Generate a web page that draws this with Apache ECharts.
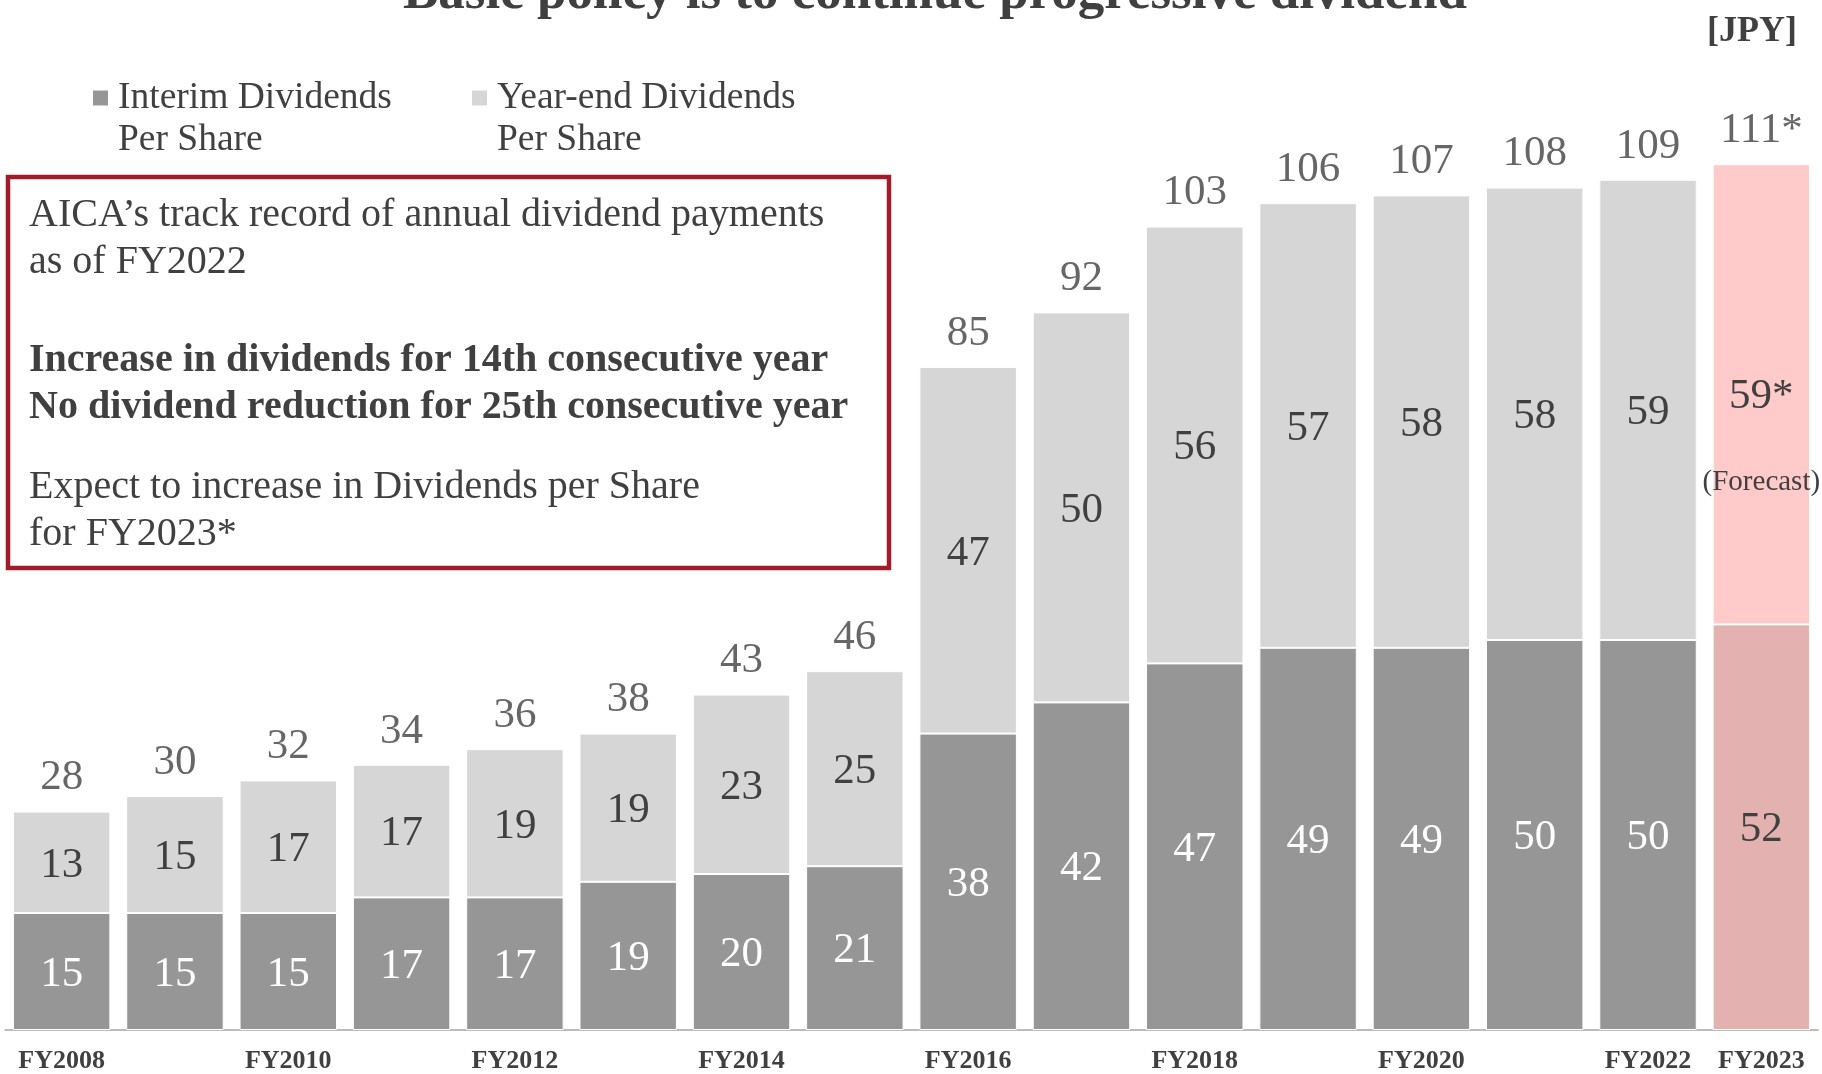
<!DOCTYPE html>
<html>
<head>
<meta charset="utf-8">
<title>Dividends per share</title>
<script src="https://cdn.jsdelivr.net/npm/echarts@6/dist/echarts.min.js"></script>
<style>
  html, body { margin: 0; padding: 0; background: #fff; }
  #chart { width: 1822px; height: 1074px; }
</style>
</head>
<body>
<div id="chart"></div>
<script>
const categories = ['FY2008', 'FY2009', 'FY2010', 'FY2011', 'FY2012', 'FY2013', 'FY2014', 'FY2015',
  'FY2016', 'FY2017', 'FY2018', 'FY2019', 'FY2020', 'FY2021', 'FY2022', 'FY2023']
const interim = [15, 15, 15, 17, 17, 19, 20, 21, 38, 42, 47, 49, 49, 50, 50, 52]
const yearEnd = [13, 15, 17, 17, 19, 19, 23, 25, 47, 50, 56, 57, 58, 58, 59, 59]
const totals = [28, 30, 32, 34, 36, 38, 43, 46, 85, 92, 103, 106, 107, 108, 109, 111]
const forecastIndex = 15

const interimName = 'Interim Dividends\nPer Share'
const yearEndName = 'Year-end Dividends\nPer Share'

const serif = "'Liberation Serif', 'Times New Roman', serif"
const textColor = '#404040'

const chart = echarts.init(document.getElementById('chart'))

const isForecast = p => p.dataIndex === forecastIndex

const legendBase = {
  top: 35,
  padding: 0,
  icon: 'rect',
  itemWidth: 17,
  itemHeight: 17,
  formatter: name => '\n' + name,
  textStyle: { fontFamily: serif, fontSize: 37.5, lineHeight: 42, color: textColor, padding: [0, 0, 0, 4] }
}

chart.setOption({
  animation: false,
  title: {
    text: 'Basic policy is to continue progressive dividend',
    left: 398,
    top: -37,
    textStyle: { fontFamily: serif, fontSize: 53, fontWeight: 'bold', color: textColor }
  },
  legend: [
    Object.assign({}, legendBase, {
      data: [{ name: interimName, itemStyle: { color: '#969696' } }],
      left: 91
    }),
    Object.assign({}, legendBase, {
      data: [{ name: yearEndName, itemStyle: { color: '#d6d6d6' } }],
      left: 470
    })
  ],
  grid: { left: 5, right: 4, top: 55, bottom: 43 },
  xAxis: {
    type: 'category',
    data: categories,
    axisLine: { lineStyle: { color: '#a6a6a6', width: 1.5 } },
    axisTick: { interval: 0, length: 7, lineStyle: { color: '#a6a6a6' } },
    axisLabel: {
      interval: (i) => i % 2 === 0 || i === forecastIndex,
      margin: 18,
      fontFamily: serif,
      fontSize: 26,
      fontWeight: 'bold',
      color: textColor
    }
  },
  yAxis: {
    type: 'value',
    min: 0,
    max: 125,
    show: false
  },
  graphic: [
    {
      type: 'text',
      right: 25,
      top: 14,
      style: { text: '[JPY]', fontFamily: serif, fontSize: 36, fontWeight: 'bold', fill: textColor }
    },
    {
      type: 'rect',
      shape: { x: 8, y: 177, width: 881, height: 391 },
      style: { fill: '#fff', stroke: '#a01c2a', lineWidth: 4.5 },
      z: 10
    },
    {
      type: 'text',
      left: 29,
      top: 192,
      z: 11,
      style: {
        text: 'AICA’s track record of annual dividend payments\nas of FY2022',
        fontFamily: serif, fontSize: 40, lineHeight: 47, fill: textColor
      }
    },
    {
      type: 'text',
      left: 29,
      top: 337,
      z: 11,
      style: {
        text: 'Increase in dividends for 14th consecutive year\nNo dividend reduction for 25th consecutive year',
        fontFamily: serif, fontSize: 40, fontWeight: 'bold', lineHeight: 47, fill: textColor
      }
    },
    {
      type: 'text',
      left: 29,
      top: 464,
      z: 11,
      style: {
        text: 'Expect to increase in Dividends per Share\nfor FY2023*',
        fontFamily: serif, fontSize: 40, lineHeight: 47, fill: textColor
      }
    }
  ],
  series: [
    {
      name: interimName,
      type: 'bar',
      stack: 'dps',
      barCategoryGap: '14%',
      data: interim,
      itemStyle: {
        color: p => (isForecast(p) ? '#e4b1b1' : '#969696'),
        borderColor: '#fff',
        borderWidth: 1
      },
      label: {
        show: true,
        position: 'inside',
        offset: [0, 3],
        fontFamily: serif,
        fontSize: 43,
        color: '#fff',
        formatter: p => (isForecast(p) ? '{d|' + p.value + '}' : p.value),
        rich: { d: { fontFamily: serif, fontSize: 43, color: textColor } }
      }
    },
    {
      name: yearEndName,
      type: 'bar',
      stack: 'dps',
      data: yearEnd,
      itemStyle: {
        color: p => (isForecast(p) ? '#ffcaca' : '#d6d6d6'),
        borderColor: '#fff',
        borderWidth: 1
      },
      label: {
        show: true,
        position: 'inside',
        fontFamily: serif,
        fontSize: 43,
        color: textColor,
        formatter: p => (isForecast(p)
          ? '{v|' + p.value + '*}\n{f|(Forecast)}'
          : p.value),
        rich: {
          v: { fontFamily: serif, fontSize: 43, lineHeight: 45, color: textColor },
          f: { fontFamily: serif, fontSize: 29, lineHeight: 127, color: textColor }
        }
      },
      // forecast label sits lower so "59*" stays centred with "(Forecast)" under it
      labelLayout: p => ({ dy: p.dataIndex === forecastIndex ? 66 : 3 })
    },
    {
      name: 'total',
      type: 'scatter',
      data: totals,
      symbolSize: 0,
      silent: true,
      label: {
        show: true,
        position: 'top',
        distance: 12,
        fontFamily: serif,
        fontSize: 43,
        color: textColor,
        formatter: p => p.value + (isForecast(p) ? '*' : '')
      }
    }
  ]
})

window.addEventListener('resize', () => chart.resize())
</script>
</body>
</html>
